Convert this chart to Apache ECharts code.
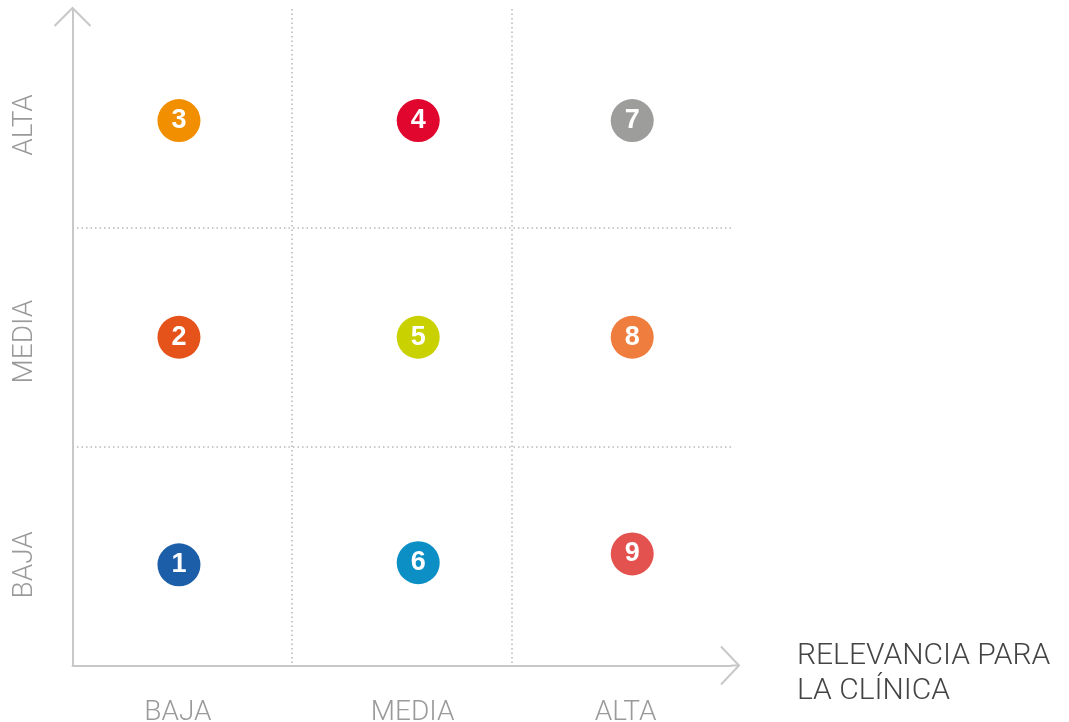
<!DOCTYPE html>
<html>
<head>
<meta charset="utf-8">
<script src="https://cdn.jsdelivr.net/npm/echarts@6/dist/echarts.min.js"></script>
<style>
html,body{margin:0;padding:0;background:#fff;}
#chart{width:1069px;height:722px;}
</style>
</head>
<body>
<div id="chart"></div>
<script>
// ---- data ----
const levelNames = ['BAJA', 'MEDIA', 'ALTA'];
const xAxisTitle = 'RELEVANCIA PARA\nLA CLÍNICA';
const pointLabels = ['1', '2', '3', '4', '5', '6', '7', '8', '9'];
const pointX = [0.485, 0.485, 0.485, 1.575, 1.575, 1.575, 2.55, 2.55, 2.55];
const pointY = [0.46, 1.50, 2.49, 2.49, 1.50, 0.47, 2.49, 1.50, 0.51];
const pointColors = ['#1d5ea8', '#e5531a', '#f18f00', '#e0062d', '#c9d200', '#0c8fc4', '#9d9d9c', '#ef7d3d', '#e4524f'];
const xLabelPos = [0.48, 1.55, 2.52];
const yLabelPos = [0.46, 1.48, 2.47];

const FONT = 'Roboto, "Liberation Sans", sans-serif';
const chart = echarts.init(document.getElementById('chart'), null, {renderer: 'canvas'});

const seriesData = pointLabels.map((lab, i) => ({
  value: [pointX[i], pointY[i]],
  name: lab,
  itemStyle: {color: pointColors[i], opacity: 1}
}));

function labelFor(pos) {
  return function (v) {
    let best = 0;
    for (let i = 1; i < pos.length; i++) if (Math.abs(pos[i] - v) < Math.abs(pos[best] - v)) best = i;
    return levelNames[best];
  };
}

const axisLineStyle = {color: '#c8c8c8', width: 2};
const splitStyle = {color: '#b8b8b8', width: 1.5, type: [1.5, 3]};

chart.setOption({
  animation: false,
  backgroundColor: '#ffffff',
  grid: {left: 72.5, right: 338, top: 9, bottom: 56.5, containLabel: false, outerBoundsMode: 'none'},
  xAxis: {
    type: 'value', min: 0, max: 3, interval: 1,
    axisLine: {show: true, lineStyle: axisLineStyle},
    axisTick: {show: false},
    splitLine: {show: true, showMinLine: false, showMaxLine: false, lineStyle: splitStyle},
    axisLabel: {
      customValues: xLabelPos,
      formatter: labelFor(xLabelPos),
      color: '#9a9a9a', fontSize: 28, fontWeight: 300, fontFamily: FONT, margin: 33
    }
  },
  yAxis: {
    type: 'value', min: 0, max: 3, interval: 1,
    axisLine: {show: true, lineStyle: axisLineStyle},
    axisTick: {show: false},
    splitLine: {show: true, showMinLine: false, showMaxLine: false, lineStyle: splitStyle},
    axisLabel: {
      customValues: yLabelPos,
      formatter: labelFor(yLabelPos),
      rotate: 90,
      color: '#9a9a9a', fontSize: 28, fontWeight: 300, fontFamily: FONT, margin: 34
    }
  },
  series: [{
    type: 'scatter',
    symbol: 'circle',
    symbolSize: 43,
    itemStyle: {opacity: 1},
    data: seriesData,
    label: {
      show: true, position: 'inside',
      formatter: p => p.name,
      color: '#ffffff', fontSize: 27, fontWeight: 'bold', fontFamily: '"Liberation Sans", Arial, sans-serif',
      padding: [3, 0, 0, 0]
    },
    emphasis: {disabled: true}
  }]
});

// open chevron arrows at the axis ends, and the axis title
const o = chart.convertToPixel({gridIndex: 0}, [0, 0]);
const xe = chart.convertToPixel({gridIndex: 0}, [3, 0]);
const ye = chart.convertToPixel({gridIndex: 0}, [0, 3]);
const ax = xe[0] + 8, ay = o[1];
const bx = o[0], by = ye[1] - 1;
const arrowStyle = {stroke: '#c8c8c8', lineWidth: 2, fill: null};
chart.setOption({
  graphic: [
    {type: 'line', shape: {x1: xe[0], y1: ay, x2: ax, y2: ay}, style: arrowStyle, silent: true},
    {type: 'polyline', shape: {points: [[ax - 18, ay - 19], [ax, ay], [ax - 18, ay + 19]]}, style: arrowStyle, silent: true},
    {type: 'polyline', shape: {points: [[bx - 18, by + 18], [bx, by], [bx + 18, by + 18]]}, style: arrowStyle, silent: true},
    {type: 'text', x: xe[0] + 66, y: ay - 27, silent: true,
     style: {text: xAxisTitle, fill: '#444444', font: '300 30px ' + FONT, lineHeight: 35, align: 'left', verticalAlign: 'top'}}
  ]
});
</script>
</body>
</html>
